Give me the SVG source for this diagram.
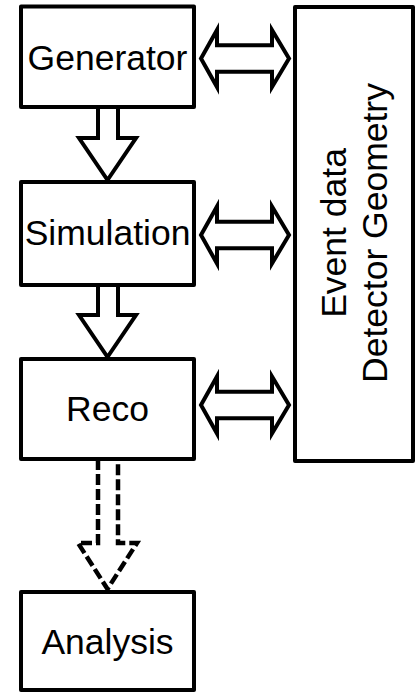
<svg xmlns="http://www.w3.org/2000/svg" width="417" height="694" viewBox="0 0 417 694">
  <style>
    .box { fill: #ffffff; stroke: #000000; stroke-width: 4; stroke-linejoin: round; }
    .arrow { fill: #ffffff; stroke: #000000; stroke-width: 4; stroke-linejoin: miter; }
    .dashed { stroke-dasharray: 11 4; stroke-width: 4.5; }
    .label { font-family: "Liberation Sans", Arial, sans-serif; font-size: 35.5px; fill: #000000; text-anchor: middle; }
  </style>
  <rect width="417" height="694" fill="#ffffff"/>

  <!-- flow arrows -->
  <g id="connectors">
    <path class="arrow" d="M98,107 V138 H79 L107.5,180 L136,138 H118 V107"/>
    <path class="arrow" d="M98,285 V315 H79 L107.5,357 L136,315 H118 V285"/>
    <path class="arrow dashed" d="M98,459 V543 H78 L107.5,589 L137,543 H118 V459"/>
    <path class="arrow" d="M201,58.5 L217,30 V45.2 H272 V30 L289,58.5 L272,87 V71.8 H217 V87 Z"/>
    <path class="arrow" d="M201,235 L217,206.5 V221.7 H272 V206.5 L289,235 L272,263.5 V248.3 H217 V263.5 Z"/>
    <path class="arrow" d="M201,405 L217,376.5 V391.7 H272 V376.5 L289,405 L272,433.5 V418.3 H217 V433.5 Z"/>
  </g>

  <g id="generator">
    <rect class="box" x="21" y="6.5" width="173" height="100.5"/>
    <text class="label" x="107.5" y="70">Generator</text>
  </g>

  <g id="simulation">
    <rect class="box" x="21" y="182" width="173" height="103"/>
    <text class="label" x="107.5" y="245">Simulation</text>
  </g>

  <g id="reco">
    <rect class="box" x="21" y="359" width="173" height="100"/>
    <text class="label" x="107.5" y="421">Reco</text>
  </g>

  <g id="analysis">
    <rect class="box" x="21" y="592" width="173" height="98"/>
    <text class="label" x="107.5" y="654">Analysis</text>
  </g>

  <g id="event-data">
    <rect class="box" x="295" y="7" width="118" height="454"/>
    <text class="label" transform="translate(346,233) rotate(-90)">Event data</text>
    <text class="label" transform="translate(387,233) rotate(-90)">Detector Geometry</text>
  </g>
</svg>
